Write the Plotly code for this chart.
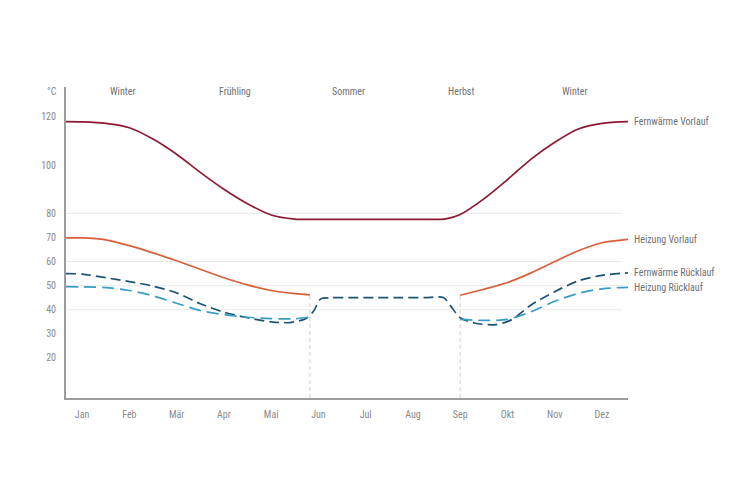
import plotly.graph_objects as go

# ---- data (x in month units: 0 = Jan ... 11 = Dez) ----
months = ["Jan", "Feb", "Mär", "Apr", "Mai", "Jun", "Jul", "Aug", "Sep", "Okt", "Nov", "Dez"]
y_ticks = [20, 30, 40, 50, 60, 70, 80, 100, 120]
grid_vals = [40, 50, 60, 80]

seasons = ["Winter", "Frühling", "Sommer", "Herbst", "Winter"]
season_x = [0.85, 3.24, 5.63, 8.02, 10.41]

fw_vor_x = [-0.34, 0.0, 0.5, 1.0, 1.5, 2.0, 2.5, 3.0, 3.5, 4.0, 4.5, 5.0, 5.75, 6.5, 7.25, 7.7, 8.0, 8.5, 9.0, 9.5, 10.0, 10.5, 11.0, 11.55]
fw_vor_y = [118, 117.9, 117.3, 115.5, 110.8, 104.5, 97, 90, 84, 79.3, 77.6, 77.5, 77.5, 77.5, 77.5, 77.7, 79.5, 86, 94, 102.5, 109.5, 115.0, 117.3, 118]

hz_vor_x = [-0.34, 0.0, 0.5, 1.0, 1.5, 2.0, 2.5, 3.0, 3.5, 4.0, 4.5, 4.82, None, 8.0, 8.5, 9.0, 9.5, 10.0, 10.5, 11.0, 11.55]
hz_vor_y = [69.8, 69.8, 69.0, 66.6, 63.6, 60.3, 56.8, 53.3, 50.3, 48.0, 46.7, 46.2, None, 46.0, 48.5, 51.3, 55.3, 60.0, 64.5, 67.8, 69.2]

fw_rue_x = [-0.34, 0.0, 0.5, 1.0, 1.5, 2.0, 2.5, 3.0, 3.5, 4.0, 4.4, 4.75, 4.9, 5.05, 5.25, 5.75, 6.25, 6.75, 7.25, 7.65, 7.8, 8.0, 8.3, 8.75, 9.1, 9.5, 10.0, 10.5, 11.0, 11.55]
fw_rue_y = [55, 54.8, 53.3, 51.7, 49.8, 47, 42.5, 39, 36.7, 35, 34.7, 36.5, 39.5, 44.5, 45, 45, 45, 45, 45, 45, 41.5, 36.7, 34.5, 33.8, 36, 42, 47.5, 52, 54.3, 55.3]

hz_rue_x = [-0.34, 0.0, 0.5, 1.0, 1.5, 2.0, 2.5, 3.0, 3.5, 4.0, 4.5, 4.82, None, 8.0, 8.5, 9.0, 9.5, 10.0, 10.5, 11.0, 11.55]
hz_rue_y = [49.6, 49.5, 49.2, 48.0, 45.8, 42.7, 39.7, 38.0, 36.9, 36.3, 36.3, 37.0, None, 36.0, 35.6, 36.0, 39.2, 43.5, 46.8, 48.7, 49.3]

series = [
    ("Fernwärme Vorlauf", fw_vor_x, fw_vor_y, "#8c1a32", "solid"),
    ("Heizung Vorlauf", hz_vor_x, hz_vor_y, "#d95f38", "solid"),
    ("Fernwärme Rücklauf", fw_rue_x, fw_rue_y, "#1c5474", "10px,5px"),
    ("Heizung Rücklauf", hz_rue_x, hz_rue_y, "#3a9dc6", "12px,6px"),
]

X_RANGE = [-0.34, 11.55]
Y_RANGE = [3.4, 132.4]
FONT = "Liberation Sans Narrow, Roboto Condensed, Roboto, Arial, sans-serif"
TXT = "#8a8a8a"

fig = go.Figure()

shapes = []
for g in grid_vals:
    shapes.append(dict(type="line", xref="paper", yref="y", x0=0, x1=0.99, y0=g, y1=g,
                       line=dict(color="#e9e9e9", width=1), layer="below"))

# summer break markers (derived from the gap in Heizung Vorlauf)
gap = hz_vor_x.index(None)
for xv, yv in [(hz_vor_x[gap - 1], hz_vor_y[gap - 1]), (hz_vor_x[gap + 1], hz_vor_y[gap + 1])]:
    shapes.append(dict(type="line", xref="x", yref="y", x0=xv, x1=xv, y0=Y_RANGE[0], y1=yv,
                       line=dict(color="#cfcfcf", width=1, dash="4px,3px"), layer="below"))

for name, xs, ys, col, dash in series:
    fig.add_trace(go.Scatter(x=xs, y=ys, mode="lines", name=name,
                             line=dict(color=col, width=1.7, dash=dash, shape="spline", smoothing=0.8),
                             connectgaps=False, hoverinfo="skip"))

annotations = []
for name, xs, ys, col, dash in series:
    annotations.append(dict(x=1, xref="paper", y=ys[-1], yref="y", text=name, showarrow=False,
                            xanchor="left", yanchor="middle", xshift=4,
                            font=dict(family=FONT, size=10, color="#707070")))
for s, sx in zip(seasons, season_x):
    annotations.append(dict(x=sx, xref="x", y=0.987, yref="paper", text=s, showarrow=False,
                            xanchor="center", yanchor="middle",
                            font=dict(family=FONT, size=10, color="#707070")))
annotations.append(dict(x=-0.0125, xref="paper", y=0.987, yref="paper", text="°C", showarrow=False,
                        xanchor="right", yanchor="middle", font=dict(family=FONT, size=10, color=TXT)))

fig.update_layout(
    width=752, height=501,
    margin=dict(l=66, r=124, t=87, b=103),
    paper_bgcolor="white", plot_bgcolor="white",
    showlegend=False,
    shapes=shapes,
    annotations=annotations,
    xaxis=dict(range=X_RANGE, tickvals=list(range(12)), ticktext=months,
               showgrid=False, zeroline=False, showline=True, linecolor="#9c9c9c", linewidth=2,
               ticks="", ticklabelstandoff=6, tickfont=dict(family=FONT, size=10, color=TXT)),
    yaxis=dict(range=Y_RANGE, tickvals=y_ticks, showgrid=False, zeroline=False,
               showline=True, linecolor="#9c9c9c", linewidth=2,
               ticks="", ticklabelstandoff=6, tickfont=dict(family=FONT, size=10, color=TXT)),
)

fig.write_html("out.html")
